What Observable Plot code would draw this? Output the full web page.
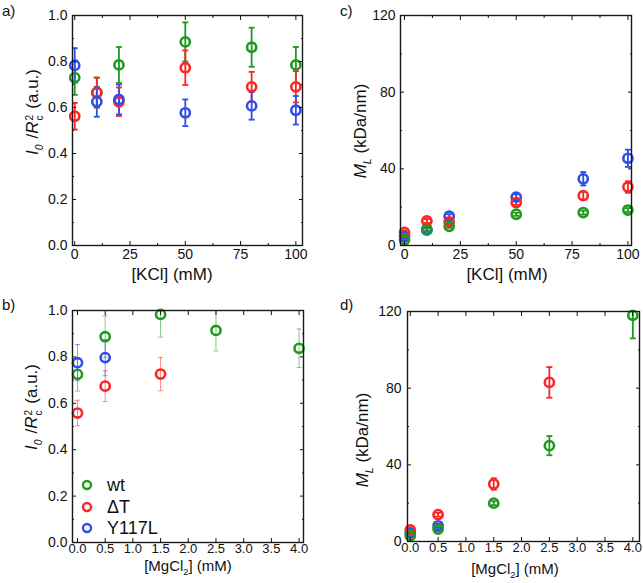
<!DOCTYPE html>
<html><head><meta charset="utf-8">
<script src="https://cdn.jsdelivr.net/npm/d3@7"></script>
<script src="https://cdn.jsdelivr.net/npm/@observablehq/plot@0.6"></script>
<style>
body{margin:0;background:#fff;font-family:"Liberation Sans",Arial,sans-serif;color:#111}
#root{position:relative;width:643px;height:583px;overflow:hidden;background:#fff}
.panel{position:absolute}
.lab{position:absolute;white-space:nowrap;font-size:17px;transform:translate(-50%,-50%)}
.lab.mg{font-size:15px}
.ylab{position:absolute;white-space:nowrap;font-size:17px;transform:translate(-50%,-50%) rotate(-90deg)}
.plab{position:absolute;font-size:15px}
.ss{display:inline-block;vertical-align:-0.45em;line-height:0.95;font-size:0.6em;text-align:left;margin-left:1px}
sub{font-size:0.62em}
.gap{margin-left:6px}
.leg{position:absolute;font-size:18px}
.leg div{position:absolute;white-space:nowrap;transform:translateY(-50%)}
</style>
</head><body><div id="root"></div>
<script>
// ---------- data ----------
const seriesNames = ["wt", "ΔT", "Y117L"];
const seriesColors = ["#1e9b1e", "#ff2424", "#2e4fe8"];

const kcl = [0, 10, 20, 50, 80, 100];
const mg = [0, 0.5, 1.5, 2.5, 4];

// panel a: I0/Rc^2 vs KCl
const aWt = [0.73, 0.665, 0.785, 0.885, 0.862, 0.785];
const aWtErr = [0.075, 0.065, 0.078, 0.085, 0.085, 0.078];
const aDT = [0.562, 0.665, 0.625, 0.773, 0.69, 0.69];
const aDTErr = [0.058, 0.065, 0.062, 0.075, 0.065, 0.068];
const aY = [0.783, 0.625, 0.635, 0.577, 0.607, 0.588];
const aYErr = [0.075, 0.065, 0.065, 0.058, 0.06, 0.062];

// panel c: ML vs KCl
const cWt = [3, 8, 10, 16.3, 17.2, 18.5];
const cWtErr = [1, 0.8, 0.8, 0.8, 1, 1];
const cDT = [6.8, 12.8, 12.3, 22.4, 26, 30.5];
const cDTErr = [1, 1, 1, 1.2, 2, 3];
const cY = [4.8, 8.5, 15.3, 25.2, 34.8, 45.5];
const cYErr = [1, 1, 1, 1.5, 3.5, 4.5];

// panel b: I0/Rc^2 vs MgCl2
const bWt = [0.725, 0.887, 0.983, 0.914, 0.837];
const bWtErr = [0.072, 0.09, 0.098, 0.088, 0.083];
const bDTx = [0, 0.5, 1.5];
const bDT = [0.558, 0.674, 0.726];
const bDTErr = [0.055, 0.066, 0.072];
const bYx = [0, 0.5];
const bY = [0.775, 0.797];
const bYErr = [0.078, 0.078];

// panel d: ML vs MgCl2
const dWt = [3, 6.5, 20, 50, 118];
const dWtErr = [0.8, 1, 1, 5, 12];
const dDTx = [0, 0.5, 1.5, 2.5];
const dDT = [6, 14, 30, 83];
const dDTErr = [0.8, 1, 3, 8];
const dYx = [0, 0.5];
const dY = [4.5, 8.2];
const dYErr = [0.8, 1];

// ticks
const kclTicks = [0, 25, 50, 75, 100];
const kclMinor = [12.5, 37.5, 62.5, 87.5];
const mgTicks = [0, 0.5, 1, 1.5, 2, 2.5, 3, 3.5, 4];
const iTicks = [0, 0.2, 0.4, 0.6, 0.8, 1.0];
const iMinor = [0.1, 0.3, 0.5, 0.7, 0.9];
const mTicks = [0, 40, 80, 120];
const mMinor = [20, 60, 100];

// ---------- helpers ----------
function rows(name, xs, ys, es) {
  return xs.map((x, i) => ({s: name, x, y: ys[i], err: es[i]}));
}
const cap = w => ({draw(ctx) { ctx.moveTo(-w, 0); ctx.lineTo(w, 0); }});

function panel(o) {
  const data = o.data;
  const m = [];
  m.push(Plot.ruleX(data, {x: "x", y1: d => d.y - d.err, y2: d => d.y + d.err, stroke: "s",
    strokeWidth: o.errW, strokeOpacity: o.errOp, clip: true}));
  for (const sgn of [1, -1]) {
    m.push(Plot.dot(data, {x: "x", y: d => d.y + sgn * d.err, symbol: cap(o.capW), r: 3, fill: "none",
      stroke: "s", strokeWidth: o.errW, strokeOpacity: o.errOp, clip: true}));
  }
  m.push(Plot.dot(data, {x: "x", y: "y", r: 4.6, fill: "none", stroke: "s", strokeWidth: 2.6}));
  m.push(Plot.axisX(o.xTicks, {anchor: "bottom", tickSize: -4, tickPadding: o.xPad, tickFormat: o.xFmt, fontSize: o.xFont, label: null}));
  m.push(Plot.axisX(o.xTicks, {anchor: "top", tickSize: -4, text: null, label: null}));
  if (o.xMinor) {
    m.push(Plot.axisX(o.xMinor, {anchor: "bottom", tickSize: -2, text: null, label: null}));
    m.push(Plot.axisX(o.xMinor, {anchor: "top", tickSize: -2, text: null, label: null}));
  }
  m.push(Plot.axisY(o.yTicks, {anchor: "left", tickSize: -4, tickPadding: o.yPad, tickFormat: o.yFmt, fontSize: 14, label: null}));
  m.push(Plot.axisY(o.yTicks, {anchor: "right", tickSize: -4, text: null, label: null}));
  m.push(Plot.axisY(o.yMinor, {anchor: "left", tickSize: -2, text: null, label: null}));
  m.push(Plot.axisY(o.yMinor, {anchor: "right", tickSize: -2, text: null, label: null}));
  m.push(Plot.frame({stroke: "#1a1a1a", strokeWidth: 1.4}));
  const svg = Plot.plot({
    width: o.width, height: o.height,
    marginLeft: o.ml, marginRight: o.mr, marginTop: o.mt, marginBottom: o.mb,
    style: {fontFamily: "Liberation Sans, Arial, sans-serif", fontSize: "14px", color: "#111", background: "transparent", overflow: "visible"},
    x: {domain: o.xDomain, axis: null},
    y: {domain: o.yDomain, axis: null},
    color: {domain: seriesNames, range: seriesColors},
    marks: m
  });
  svg.classList.add("panel");
  svg.style.left = o.left + "px";
  svg.style.top = o.top + "px";
  return svg;
}

const root = document.getElementById("root");
const f1 = d3.format(".1f");
const fi = d => String(d);

root.appendChild(panel({
  left: 0, top: 0, width: 320, height: 290, ml: 72, mr: 18, mt: 15, mb: 45,
  xDomain: [-1, 103], yDomain: [0, 1], xPad: 8, xFont: 14, yPad: 9,
  xTicks: kclTicks, xMinor: kclMinor, yTicks: iTicks, yMinor: iMinor, xFmt: fi, yFmt: f1,
  errW: 1.8, errOp: 1, capW: 3,
  data: [...rows("wt", kcl, aWt, aWtErr), ...rows("ΔT", kcl, aDT, aDTErr), ...rows("Y117L", kcl, aY, aYErr)]
}));
root.appendChild(panel({
  left: 320, top: 0, width: 323, height: 290, ml: 80, mr: 12, mt: 15, mb: 45,
  xDomain: [-1.8, 101.6], yDomain: [0, 120], xPad: 8, xFont: 14, yPad: 9,
  xTicks: kclTicks, xMinor: kclMinor, yTicks: mTicks, yMinor: mMinor, xFmt: fi, yFmt: fi,
  errW: 1.8, errOp: 1, capW: 3,
  data: [...rows("Y117L", kcl, cY, cYErr), ...rows("ΔT", kcl, cDT, cDTErr), ...rows("wt", kcl, cWt, cWtErr)]
}));
root.appendChild(panel({
  left: 0, top: 290, width: 320, height: 293, ml: 72, mr: 17, mt: 20, mb: 41,
  xDomain: [-0.09, 4.08], yDomain: [0, 1], xPad: 5, xFont: 13, yPad: 9,
  xTicks: mgTicks, xMinor: null, yTicks: iTicks, yMinor: iMinor, xFmt: f1, yFmt: f1,
  errW: 1, errOp: 0.55, capW: 2.5,
  data: [...rows("wt", mg, bWt, bWtErr), ...rows("ΔT", bDTx, bDT, bDTErr), ...rows("Y117L", bYx, bY, bYErr)]
}));
root.appendChild(panel({
  left: 320, top: 290, width: 323, height: 293, ml: 87, mr: 4, mt: 21, mb: 42,
  xDomain: [-0.05, 4.12], yDomain: [0, 120], xPad: 5, xFont: 13, yPad: 10,
  xTicks: mgTicks, xMinor: null, yTicks: mTicks, yMinor: mMinor, xFmt: f1, yFmt: fi,
  errW: 1.8, errOp: 1, capW: 3,
  data: [...rows("Y117L", dYx, dY, dYErr), ...rows("ΔT", dDTx, dDT, dDTErr), ...rows("wt", mg, dWt, dWtErr)]
}));

// ---------- text overlays ----------
const I0 = '<i>I</i><sub><i>0</i></sub><span class="gap">/</span><i>R</i><span class="ss">2<br>c</span><span class="gap">(a.u.)</span>';
const ML = '<i>M</i><sub><i>L</i></sub> (kDa/nm)';
const html = `
<div class="plab" style="left:2px;top:2px">a)</div>
<div class="plab" style="left:340px;top:2px">c)</div>
<div class="plab" style="left:2px;top:296px">b)</div>
<div class="plab" style="left:340px;top:296px">d)</div>
<div class="ylab" style="left:34px;top:112px">${I0}</div>
<div class="ylab" style="left:362px;top:131px">${ML}</div>
<div class="ylab" style="left:33px;top:407px">${I0}</div>
<div class="ylab" style="left:364px;top:440px">${ML}</div>
<div class="lab" style="left:172px;top:275px">[KCl] (mM)</div>
<div class="lab" style="left:507px;top:275px">[KCl] (mM)</div>
<div class="lab mg" style="left:188px;top:567px">[MgCl<sub>2</sub>] (mM)</div>
<div class="lab mg" style="left:515px;top:570px">[MgCl<sub>2</sub>] (mM)</div>
<div class="leg" style="left:0;top:0">
  ${seriesNames.map((n, i) => `
  <svg style="position:absolute;left:${81}px;top:${479 + i * 21.5}px" width="12" height="12"><circle cx="6" cy="6" r="4" fill="none" stroke="${seriesColors[i]}" stroke-width="2.4"/></svg>
  <div style="left:107px;top:${485 + i * 21.5}px">${n}</div>`).join("")}
</div>`;
root.insertAdjacentHTML("beforeend", html);
</script>
</body></html>
